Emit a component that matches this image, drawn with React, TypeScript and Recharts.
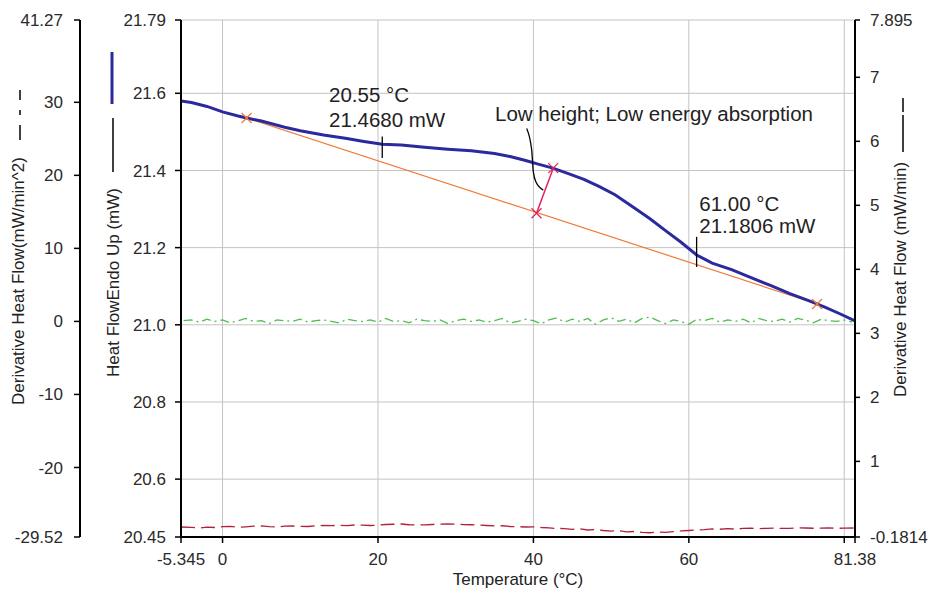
import React from 'react';
import { ComposedChart, Line, Scatter, XAxis, YAxis, CartesianGrid } from 'recharts';

const FONT = '"Liberation Sans", Arial, sans-serif';

// Heat flow (mW) vs temperature (°C)
const hfTemps = [-5.345, -4, -2, 0, 2, 3.1, 5, 8, 10, 13, 16, 18, 20.55, 23, 26, 29, 32, 35, 37, 39, 40.5, 42.5, 44.5, 46.5, 48.5, 50.5, 53, 55, 57, 59, 61, 63, 65.5, 68, 70.5, 73, 75.5, 77.5, 79.5, 81.38];
const hfValues = [21.58, 21.576, 21.566, 21.552, 21.541, 21.536, 21.528, 21.512, 21.503, 21.492, 21.483, 21.476, 21.468, 21.466, 21.46, 21.455, 21.451, 21.444, 21.436, 21.426, 21.417, 21.406, 21.392, 21.377, 21.358, 21.337, 21.303, 21.275, 21.244, 21.214, 21.181, 21.16, 21.143, 21.122, 21.102, 21.081, 21.062, 21.046, 21.028, 21.01];

// Derivative heat flow (mW/min^2), outer left axis
const d2Temps = [-5, -4, -3, -2, -1, 0, 1, 2, 3, 4, 5, 6, 7, 8, 9, 10, 11, 12, 13, 14, 15, 16, 17, 18, 19, 20, 21, 22, 23, 24, 25, 26, 27, 28, 29, 30, 31, 32, 33, 34, 35, 36, 37, 38, 39, 40, 41, 42, 43, 44, 45, 46, 47, 48, 49, 50, 51, 52, 53, 54, 55, 56, 57, 58, 59, 60, 61, 62, 63, 64, 65, 66, 67, 68, 69, 70, 71, 72, 73, 74, 75, 76, 77, 78, 79, 80, 81];
const d2Values = [0.1, 0.2, -0.1, 0.3, 0.0, 0.2, -0.2, 0.1, 0.4, 0.0, 0.1, -0.3, 0.2, 0.1, 0.0, 0.3, -0.1, 0.1, 0.2, 0.0, -0.2, 0.3, 0.1, 0.0, 0.2, -0.1, 0.4, 0.0, 0.1, -0.2, 0.3, 0.1, 0.0, 0.2, -0.3, 0.1, 0.3, 0.0, 0.2, -0.1, 0.1, 0.4, -0.2, 0.0, 0.3, 0.1, -0.3, 0.2, 0.5, -0.1, 0.3, 0.0, 0.4, -0.4, 0.2, 0.5, 0.0, 0.3, -0.2, 0.4, 0.6, 0.1, -0.3, 0.2, 0.0, -0.4, 0.3, 0.1, 0.4, -0.1, 0.2, 0.0, 0.3, -0.2, 0.4, 0.1, 0.0, 0.3, -0.1, 0.4, 0.2, -0.2, 0.3, 0.1, 0.0, 0.2, -0.1];

// Derivative heat flow (mW/min), right axis
const d1Temps = [-5.345, -4, -3, -2, -1, 0, 1, 2, 3, 4, 5, 6, 7, 8, 9, 10, 11, 12, 13, 14, 15, 16, 17, 18, 19, 20, 21, 22, 23, 24, 25, 26, 27, 28, 29, 30, 31, 32, 33, 34, 35, 36, 37, 38, 39, 40, 41, 42, 43, 44, 45, 46, 47, 48, 49, 50, 51, 52, 53, 54, 55, 56, 57, 58, 59, 60, 61, 62, 63, 64, 65, 66, 67, 68, 69, 70, 71, 72, 73, 74, 75, 76, 77, 78, 79, 80, 81.38];
const d1Values = [-0.025, -0.03, -0.04, -0.028, -0.033, -0.02, -0.017, -0.03, -0.022, -0.012, -0.009, -0.02, -0.025, -0.01, -0.009, -0.015, -0.017, -0.006, -0.001, -0.004, 0.002, -0.004, 0.006, 0.004, -0.002, 0.004, 0.014, 0.018, 0.022, 0.01, 0.006, 0.008, 0.014, 0.02, 0.022, 0.018, 0.012, 0.01, 0.004, -0.002, -0.009, -0.006, -0.017, -0.02, -0.025, -0.022, -0.033, -0.04, -0.048, -0.05, -0.062, -0.055, -0.072, -0.064, -0.08, -0.09, -0.082, -0.1, -0.095, -0.108, -0.115, -0.104, -0.11, -0.098, -0.087, -0.08, -0.072, -0.066, -0.056, -0.06, -0.052, -0.058, -0.048, -0.044, -0.05, -0.046, -0.041, -0.048, -0.046, -0.04, -0.041, -0.045, -0.043, -0.038, -0.046, -0.042, -0.041];

// Analysis marks (data coordinates)
const baselineTemps = [3.1, 76.5];
const baselineValues = [21.536, 21.054];
const heightTemps = [40.4, 42.55];
const heightValues = [21.289, 21.406];
const leaderTemps = [39.135, 39.78, 39.985, 40.33, 41.27];
const leaderValues = [21.509, 21.453, 21.397, 21.37, 21.349];
const onsetMarkTemps = [20.55, 20.55];
const onsetMarkValues = [21.488, 21.432];
const endMarkTemps = [61.0, 61.0];
const endMarkValues = [21.228, 21.15];

const noteTemps = [13.7, 13.7, 35.06, 61.34, 61.34];
const noteValues = [21.578, 21.512, 21.528, 21.296, 21.237];
const noteTexts = ['20.55 °C', '21.4680 mW', 'Low height; Low energy absorption', '61.00 °C', '21.1806 mW'];

const xTicks = [-5.345, 0, 20, 40, 60, 80, 81.38];
const xTickLabels = ['-5.345', '0', '20', '40', '60', '', '81.38'];
const hfTicks = [20.45, 20.6, 20.8, 21.0, 21.2, 21.4, 21.6, 21.79];
const hfTickLabels = ['20.45', '20.6', '20.8', '21.0', '21.2', '21.4', '21.6', '21.79'];
const d2Ticks = [-29.52, -20, -10, 0, 10, 20, 30, 41.27];
const d2TickLabels = ['-29.52', '-20', '-10', '0', '10', '20', '30', '41.27'];
const d1Ticks = [-0.1814, 1, 2, 3, 4, 5, 6, 7, 7.895];
const d1TickLabels = ['-0.1814', '1', '2', '3', '4', '5', '6', '7', '7.895'];

const zip = (ts: number[], vs: number[]) => ts.map((T, i) => ({ T, v: vs[i] }));
const hfData = zip(hfTemps, hfValues);
const d2Data = zip(d2Temps, d2Values);
const d1Data = zip(d1Temps, d1Values);
const baselineData = zip(baselineTemps, baselineValues);
const heightData = zip(heightTemps, heightValues);
const leaderData = zip(leaderTemps, leaderValues);
const onsetMarkData = zip(onsetMarkTemps, onsetMarkValues);
const endMarkData = zip(endMarkTemps, endMarkValues);
const noteData = noteTemps.map((T, i) => ({ T, v: noteValues[i], text: noteTexts[i] }));

const tickStyle = { fill: '#2a2a2a', fontSize: 17, fontFamily: FONT };
const axisLine = { stroke: '#000', strokeWidth: 2 };
const tickLine = { stroke: '#000', strokeWidth: 1.5 };

const fmt = (ticks: number[], labels: string[]) => (v: number) => {
  const i = ticks.findIndex((t) => Math.abs(t - v) < 1e-6);
  return i >= 0 ? labels[i] : String(v);
};

const crossShape = (color: string) => (p: any) => {
  const { cx, cy } = p;
  if (cx == null || cy == null) return <g />;
  const s = 5;
  return (
    <g stroke={color} strokeWidth={1.2}>
      <line x1={cx - s} y1={cy - s} x2={cx + s} y2={cy + s} />
      <line x1={cx - s} y1={cy + s} x2={cx + s} y2={cy - s} />
    </g>
  );
};

const noteShape = (p: any) => {
  const { cx, cy, payload } = p;
  if (cx == null || cy == null) return <g />;
  return (
    <text x={cx} y={cy} fontSize={20.5} fontFamily={FONT} fill="#222">
      {payload.text}
    </text>
  );
};

const innerLabel = (props: any) => {
  const vb = props.viewBox;
  const bx = vb.x + 39;
  const by = vb.y + 357;
  return (
    <g>
      <text x={bx} y={by} transform={`rotate(-90 ${bx} ${by})`} fontSize={17} fontFamily={FONT} fill="#222">
        Heat FlowEndo Up (mW)
      </text>
      <line x1={vb.x + 33} x2={vb.x + 33} y1={vb.y + 98} y2={vb.y + 152} stroke="#000" strokeWidth={1.5} />
      <line x1={vb.x + 32} x2={vb.x + 32} y1={vb.y + 32} y2={vb.y + 84} stroke="#2a2a9e" strokeWidth={3} />
    </g>
  );
};

const outerLabel = (props: any) => {
  const vb = props.viewBox;
  const bx = vb.x + 16;
  const by = vb.y + 385;
  const lx = vb.x + 12;
  return (
    <g>
      <text x={bx} y={by} transform={`rotate(-90 ${bx} ${by})`} fontSize={17} fontFamily={FONT} fill="#222">
        Derivative Heat Flow(mW/min^2)
      </text>
      <line x1={lx} x2={lx} y1={vb.y + 70} y2={vb.y + 80} stroke="#000" strokeWidth={1.5} />
      <line x1={lx} x2={lx} y1={vb.y + 90} y2={vb.y + 95} stroke="#000" strokeWidth={1.5} />
      <line x1={lx} x2={lx} y1={vb.y + 105} y2={vb.y + 120} stroke="#000" strokeWidth={1.5} />
    </g>
  );
};

const rightLabel = (props: any) => {
  const vb = props.viewBox;
  const bx = vb.x + 51;
  const by = vb.y + 377;
  const lx = vb.x + 48;
  return (
    <g>
      <text x={bx} y={by} transform={`rotate(-90 ${bx} ${by})`} fontSize={17} fontFamily={FONT} fill="#222">
        Derivative Heat Flow (mW/min)
      </text>
      <line x1={lx} x2={lx} y1={vb.y + 95} y2={vb.y + 132} stroke="#000" strokeWidth={1.5} />
      <line x1={lx} x2={lx} y1={vb.y + 78} y2={vb.y + 92} stroke="#000" strokeWidth={1.5} />
    </g>
  );
};

const xLabel = (props: any) => {
  const vb = props.viewBox;
  return (
    <text x={vb.x + vb.width / 2} y={vb.y + 48} textAnchor="middle" fontSize={17} fontFamily={FONT} fill="#222">
      Temperature (°C)
    </text>
  );
};

export default function App() {
  return (
    <div style={{ position: 'absolute', left: 0, top: 0, background: '#fff' }}>
      <ComposedChart width={931} height={594} margin={{ top: 20, right: 6, bottom: 7, left: 8 }}>
        <CartesianGrid xAxisId="x" yAxisId="y1" stroke="#c4c4c4" strokeWidth={1} />
        <XAxis
          xAxisId="x"
          dataKey="T"
          type="number"
          domain={[-5.345, 81.38]}
          allowDataOverflow
          ticks={xTicks}
          interval={0}
          tickFormatter={fmt(xTicks, xTickLabels)}
          tick={tickStyle}
          tickSize={6}
          tickMargin={10}
          axisLine={axisLine}
          tickLine={tickLine}
          height={50}
          label={xLabel}
        />
        <YAxis
          yAxisId="y1"
          orientation="left"
          type="number"
          domain={[20.45, 21.79]}
          allowDataOverflow
          ticks={hfTicks}
          interval={0}
          tickFormatter={fmt(hfTicks, hfTickLabels)}
          tick={tickStyle}
          tickSize={6}
          tickMargin={9}
          axisLine={axisLine}
          tickLine={tickLine}
          width={101}
          label={innerLabel}
        />
        <YAxis
          yAxisId="y2"
          orientation="left"
          type="number"
          domain={[-29.52, 41.27]}
          allowDataOverflow
          ticks={d2Ticks}
          interval={0}
          tickFormatter={fmt(d2Ticks, d2TickLabels)}
          tick={tickStyle}
          tickSize={6}
          tickMargin={11}
          axisLine={axisLine}
          tickLine={tickLine}
          width={72}
          label={outerLabel}
        />
        <YAxis
          yAxisId="y3"
          orientation="right"
          type="number"
          domain={[-0.1814, 7.895]}
          allowDataOverflow
          ticks={d1Ticks}
          interval={0}
          tickFormatter={fmt(d1Ticks, d1TickLabels)}
          tick={tickStyle}
          tickSize={5}
          tickMargin={10}
          axisLine={axisLine}
          tickLine={tickLine}
          width={70}
          label={rightLabel}
        />
        <Line xAxisId="x" yAxisId="y2" data={d2Data} dataKey="v" type="linear" stroke="#4cbf4c" strokeWidth={1.3} strokeDasharray="9 4 2 4" dot={false} isAnimationActive={false} />
        <Line xAxisId="x" yAxisId="y3" data={d1Data} dataKey="v" type="linear" stroke="#b3203c" strokeWidth={1.3} strokeDasharray="14 6" dot={false} isAnimationActive={false} />
        <Line xAxisId="x" yAxisId="y1" data={baselineData} dataKey="v" type="linear" stroke="#f07a3a" strokeWidth={1.2} dot={false} isAnimationActive={false} />
        <Line xAxisId="x" yAxisId="y1" data={hfData} dataKey="v" type="linear" stroke="#2a2a9e" strokeWidth={3} dot={false} isAnimationActive={false} />
        <Line xAxisId="x" yAxisId="y1" data={heightData} dataKey="v" type="linear" stroke="#e0245a" strokeWidth={1.5} dot={false} isAnimationActive={false} />
        <Line xAxisId="x" yAxisId="y1" data={leaderData} dataKey="v" type="monotone" stroke="#000" strokeWidth={1.3} dot={false} isAnimationActive={false} />
        <Line xAxisId="x" yAxisId="y1" data={onsetMarkData} dataKey="v" type="linear" stroke="#000" strokeWidth={1.3} dot={false} isAnimationActive={false} />
        <Line xAxisId="x" yAxisId="y1" data={endMarkData} dataKey="v" type="linear" stroke="#000" strokeWidth={1.3} dot={false} isAnimationActive={false} />
        <Scatter xAxisId="x" yAxisId="y1" data={baselineData} dataKey="v" shape={crossShape('#f07a3a')} isAnimationActive={false} />
        <Scatter xAxisId="x" yAxisId="y1" data={heightData} dataKey="v" shape={crossShape('#e0245a')} isAnimationActive={false} />
        <Scatter xAxisId="x" yAxisId="y1" data={noteData} dataKey="v" shape={noteShape} isAnimationActive={false} />
      </ComposedChart>
    </div>
  );
}
